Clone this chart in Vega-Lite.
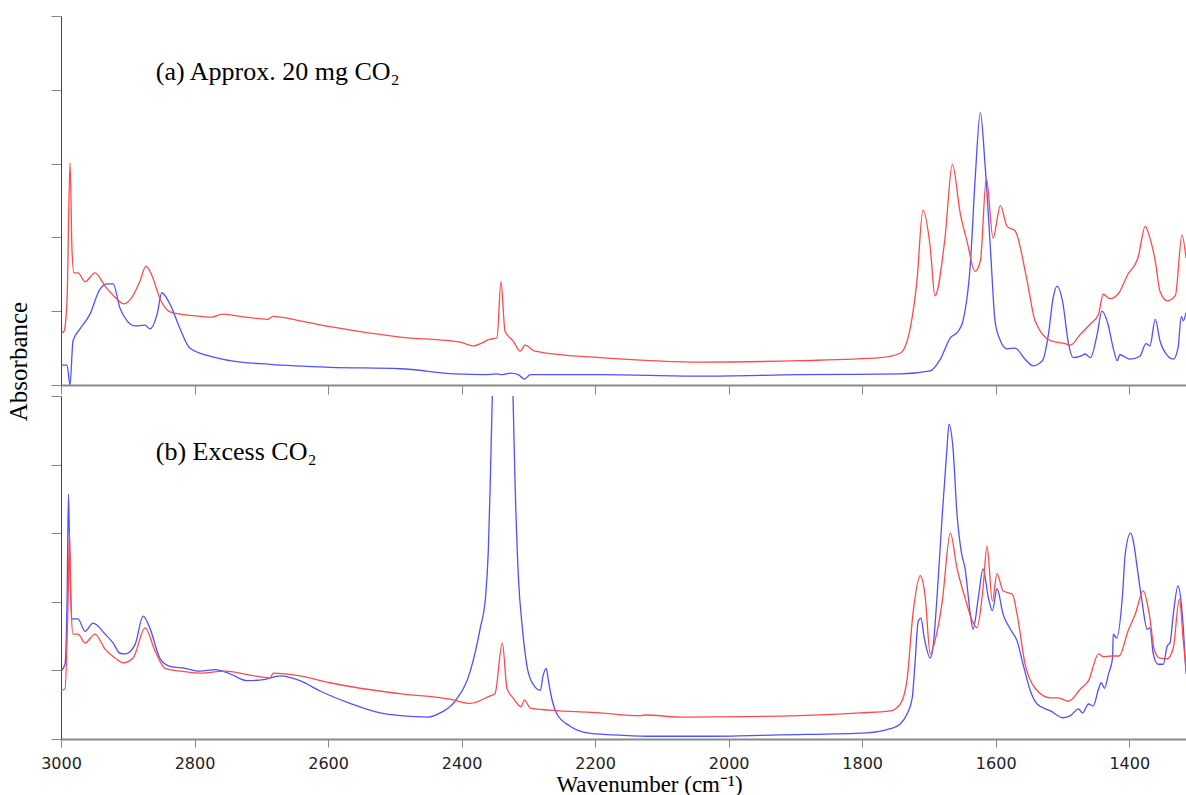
{
  "$schema": "https://vega.github.io/schema/vega-lite/v6.json",
  "padding": {"left": 6, "top": 15, "right": 0, "bottom": 0},
  "bounds": "flush",
  "spacing": 11,
  "config": {
    "view": {"stroke": null},
    "axis": {"grid": false, "labelFont": "DejaVu Sans", "labelFontSize": 16, "labelColor": "#222222", "titleFont": "Liberation Serif", "titleFontWeight": "normal", "titleColor": "#000000"}
  },
  "datasets": {
    "spectra": [
      {"panel":"a","series":"blue","wn":3000,"abs":0.27},{"panel":"a","series":"blue","wn":2991,"abs":0.27},{"panel":"a","series":"blue","wn":2986.5,"abs":0.0},{"panel":"a","series":"blue","wn":2982,"abs":0.6},{"panel":"a","series":"blue","wn":2971.5,"abs":0.76},{"panel":"a","series":"blue","wn":2956.6,"abs":0.96},{"panel":"a","series":"blue","wn":2941.6,"abs":1.3},{"panel":"a","series":"blue","wn":2929.6,"abs":1.37},{"panel":"a","series":"blue","wn":2922,"abs":1.37},{"panel":"a","series":"blue","wn":2911.6,"abs":1.04},{"panel":"a","series":"blue","wn":2901,"abs":0.87},{"panel":"a","series":"blue","wn":2889,"abs":0.8},{"panel":"a","series":"blue","wn":2874,"abs":0.81},{"panel":"a","series":"blue","wn":2866.7,"abs":0.76},{"panel":"a","series":"blue","wn":2856,"abs":0.96},{"panel":"a","series":"blue","wn":2849,"abs":1.25},{"panel":"a","series":"blue","wn":2837,"abs":1.1},{"panel":"a","series":"blue","wn":2822,"abs":0.77},{"panel":"a","series":"blue","wn":2807,"abs":0.5},{"panel":"a","series":"blue","wn":2777,"abs":0.39},{"panel":"a","series":"blue","wn":2747,"abs":0.33},{"panel":"a","series":"blue","wn":2687,"abs":0.28},{"panel":"a","series":"blue","wn":2597,"abs":0.24},{"panel":"a","series":"blue","wn":2492,"abs":0.22},{"panel":"a","series":"blue","wn":2410,"abs":0.15},{"panel":"a","series":"blue","wn":2365,"abs":0.14},{"panel":"a","series":"blue","wn":2347,"abs":0.15},{"panel":"a","series":"blue","wn":2339,"abs":0.14},{"panel":"a","series":"blue","wn":2327,"abs":0.16},{"panel":"a","series":"blue","wn":2315,"abs":0.14},{"panel":"a","series":"blue","wn":2306,"abs":0.08},{"panel":"a","series":"blue","wn":2297,"abs":0.14},{"panel":"a","series":"blue","wn":2193,"abs":0.14},{"panel":"a","series":"blue","wn":2043,"abs":0.12},{"panel":"a","series":"blue","wn":1893,"abs":0.14},{"panel":"a","series":"blue","wn":1743,"abs":0.15},{"panel":"a","series":"blue","wn":1698,"abs":0.19},{"panel":"a","series":"blue","wn":1683,"abs":0.35},{"panel":"a","series":"blue","wn":1668,"abs":0.64},{"panel":"a","series":"blue","wn":1656,"abs":0.73},{"panel":"a","series":"blue","wn":1649,"abs":0.87},{"panel":"a","series":"blue","wn":1638,"abs":1.64},{"panel":"a","series":"blue","wn":1631,"abs":2.76},{"panel":"a","series":"blue","wn":1623,"abs":3.69},{"panel":"a","series":"blue","wn":1616,"abs":2.99},{"panel":"a","series":"blue","wn":1608,"abs":1.86},{"panel":"a","series":"blue","wn":1601,"abs":0.87},{"panel":"a","series":"blue","wn":1593,"abs":0.6},{"panel":"a","series":"blue","wn":1583,"abs":0.49},{"panel":"a","series":"blue","wn":1571,"abs":0.5},{"panel":"a","series":"blue","wn":1556,"abs":0.35},{"panel":"a","series":"blue","wn":1544,"abs":0.26},{"panel":"a","series":"blue","wn":1530,"abs":0.33},{"panel":"a","series":"blue","wn":1521,"abs":0.69},{"panel":"a","series":"blue","wn":1514,"abs":1.18},{"panel":"a","series":"blue","wn":1508,"abs":1.34},{"panel":"a","series":"blue","wn":1500,"abs":1.14},{"panel":"a","series":"blue","wn":1491,"abs":0.56},{"panel":"a","series":"blue","wn":1484,"abs":0.37},{"panel":"a","series":"blue","wn":1473,"abs":0.39},{"panel":"a","series":"blue","wn":1466,"abs":0.42},{"panel":"a","series":"blue","wn":1458,"abs":0.37},{"panel":"a","series":"blue","wn":1448,"abs":0.69},{"panel":"a","series":"blue","wn":1441,"abs":1.0},{"panel":"a","series":"blue","wn":1432,"abs":0.83},{"panel":"a","series":"blue","wn":1424,"abs":0.5},{"panel":"a","series":"blue","wn":1418,"abs":0.33},{"panel":"a","series":"blue","wn":1414,"abs":0.41},{"panel":"a","series":"blue","wn":1399,"abs":0.35},{"panel":"a","series":"blue","wn":1384,"abs":0.39},{"panel":"a","series":"blue","wn":1375,"abs":0.56},{"panel":"a","series":"blue","wn":1369,"abs":0.53},{"panel":"a","series":"blue","wn":1361,"abs":0.89},{"panel":"a","series":"blue","wn":1354,"abs":0.6},{"panel":"a","series":"blue","wn":1342,"abs":0.39},{"panel":"a","series":"blue","wn":1334,"abs":0.35},{"panel":"a","series":"blue","wn":1327,"abs":0.5},{"panel":"a","series":"blue","wn":1322,"abs":0.93},{"panel":"a","series":"blue","wn":1319,"abs":0.87},{"panel":"a","series":"blue","wn":1315,"abs":0.98},
      {"panel":"a","series":"red","wn":3000,"abs":0.7},{"panel":"a","series":"red","wn":2995.5,"abs":0.73},{"panel":"a","series":"red","wn":2991,"abs":1.14},{"panel":"a","series":"red","wn":2986.5,"abs":3.01},{"panel":"a","series":"red","wn":2983.5,"abs":1.82},{"panel":"a","series":"red","wn":2980.5,"abs":1.52},{"panel":"a","series":"red","wn":2974.5,"abs":1.52},{"panel":"a","series":"red","wn":2964,"abs":1.4},{"panel":"a","series":"red","wn":2949,"abs":1.52},{"panel":"a","series":"red","wn":2934,"abs":1.34},{"panel":"a","series":"red","wn":2919,"abs":1.19},{"panel":"a","series":"red","wn":2905.6,"abs":1.1},{"panel":"a","series":"red","wn":2893.6,"abs":1.19},{"panel":"a","series":"red","wn":2881.7,"abs":1.41},{"panel":"a","series":"red","wn":2872.7,"abs":1.61},{"panel":"a","series":"red","wn":2863.7,"abs":1.48},{"panel":"a","series":"red","wn":2851.7,"abs":1.17},{"panel":"a","series":"red","wn":2836.7,"abs":0.99},{"panel":"a","series":"red","wn":2821.7,"abs":0.96},{"panel":"a","series":"red","wn":2791.8,"abs":0.93},{"panel":"a","series":"red","wn":2773.8,"abs":0.92},{"panel":"a","series":"red","wn":2758.8,"abs":0.96},{"panel":"a","series":"red","wn":2731.9,"abs":0.93},{"panel":"a","series":"red","wn":2689.9,"abs":0.89},{"panel":"a","series":"red","wn":2682.4,"abs":0.93},{"panel":"a","series":"red","wn":2642,"abs":0.87},{"panel":"a","series":"red","wn":2597,"abs":0.79},{"panel":"a","series":"red","wn":2492,"abs":0.65},{"panel":"a","series":"red","wn":2402,"abs":0.58},{"panel":"a","series":"red","wn":2383,"abs":0.53},{"panel":"a","series":"red","wn":2357,"abs":0.62},{"panel":"a","series":"red","wn":2347,"abs":0.64},{"panel":"a","series":"red","wn":2341,"abs":1.4},{"panel":"a","series":"red","wn":2335,"abs":0.73},{"panel":"a","series":"red","wn":2323,"abs":0.6},{"panel":"a","series":"red","wn":2312,"abs":0.46},{"panel":"a","series":"red","wn":2305,"abs":0.54},{"panel":"a","series":"red","wn":2290,"abs":0.46},{"panel":"a","series":"red","wn":2193,"abs":0.37},{"panel":"a","series":"red","wn":2118,"abs":0.33},{"panel":"a","series":"red","wn":2043,"abs":0.31},{"panel":"a","series":"red","wn":1893,"abs":0.33},{"panel":"a","series":"red","wn":1773,"abs":0.37},{"panel":"a","series":"red","wn":1743,"abs":0.43},{"panel":"a","series":"red","wn":1728,"abs":0.77},{"panel":"a","series":"red","wn":1718,"abs":1.41},{"panel":"a","series":"red","wn":1709,"abs":2.37},{"panel":"a","series":"red","wn":1698,"abs":1.86},{"panel":"a","series":"red","wn":1691,"abs":1.21},{"panel":"a","series":"red","wn":1676,"abs":1.99},{"panel":"a","series":"red","wn":1665,"abs":2.99},{"panel":"a","series":"red","wn":1653,"abs":2.32},{"panel":"a","series":"red","wn":1643,"abs":1.95},{"panel":"a","series":"red","wn":1631,"abs":1.54},{"panel":"a","series":"red","wn":1623,"abs":1.68},{"panel":"a","series":"red","wn":1614,"abs":2.8},{"panel":"a","series":"red","wn":1604,"abs":1.99},{"panel":"a","series":"red","wn":1593,"abs":2.43},{"panel":"a","series":"red","wn":1583,"abs":2.15},{"panel":"a","series":"red","wn":1571,"abs":2.09},{"panel":"a","series":"red","wn":1553,"abs":1.41},{"panel":"a","series":"red","wn":1541,"abs":0.87},{"panel":"a","series":"red","wn":1518,"abs":0.6},{"panel":"a","series":"red","wn":1496,"abs":0.56},{"panel":"a","series":"red","wn":1488,"abs":0.54},{"panel":"a","series":"red","wn":1473,"abs":0.69},{"panel":"a","series":"red","wn":1458,"abs":0.83},{"panel":"a","series":"red","wn":1446,"abs":0.96},{"panel":"a","series":"red","wn":1439,"abs":1.23},{"panel":"a","series":"red","wn":1429,"abs":1.17},{"panel":"a","series":"red","wn":1417,"abs":1.23},{"panel":"a","series":"red","wn":1402,"abs":1.5},{"panel":"a","series":"red","wn":1387,"abs":1.72},{"panel":"a","series":"red","wn":1376,"abs":2.15},{"panel":"a","series":"red","wn":1369,"abs":1.99},{"panel":"a","series":"red","wn":1361,"abs":1.68},{"panel":"a","series":"red","wn":1354,"abs":1.27},{"panel":"a","series":"red","wn":1343,"abs":1.14},{"panel":"a","series":"red","wn":1331,"abs":1.21},{"panel":"a","series":"red","wn":1321,"abs":2.03},{"panel":"a","series":"red","wn":1315,"abs":1.72},
      {"panel":"b","series":"blue","wn":3000,"abs":0.99},{"panel":"b","series":"blue","wn":2994,"abs":1.09},{"panel":"b","series":"blue","wn":2991,"abs":1.97},{"panel":"b","series":"blue","wn":2988.8,"abs":3.57},{"panel":"b","series":"blue","wn":2986.5,"abs":2.45},{"panel":"b","series":"blue","wn":2983.5,"abs":1.75},{"panel":"b","series":"blue","wn":2974.5,"abs":1.75},{"panel":"b","series":"blue","wn":2964,"abs":1.57},{"panel":"b","series":"blue","wn":2952,"abs":1.69},{"panel":"b","series":"blue","wn":2934,"abs":1.53},{"panel":"b","series":"blue","wn":2922,"abs":1.4},{"panel":"b","series":"blue","wn":2911.6,"abs":1.25},{"panel":"b","series":"blue","wn":2904,"abs":1.24},{"panel":"b","series":"blue","wn":2889,"abs":1.38},{"panel":"b","series":"blue","wn":2877,"abs":1.79},{"panel":"b","series":"blue","wn":2867,"abs":1.62},{"panel":"b","series":"blue","wn":2852,"abs":1.18},{"panel":"b","series":"blue","wn":2837,"abs":1.06},{"panel":"b","series":"blue","wn":2814,"abs":1.03},{"panel":"b","series":"blue","wn":2792,"abs":0.99},{"panel":"b","series":"blue","wn":2769,"abs":1.01},{"panel":"b","series":"blue","wn":2747,"abs":0.95},{"panel":"b","series":"blue","wn":2721,"abs":0.85},{"panel":"b","series":"blue","wn":2694,"abs":0.87},{"panel":"b","series":"blue","wn":2672,"abs":0.92},{"panel":"b","series":"blue","wn":2642,"abs":0.85},{"panel":"b","series":"blue","wn":2612,"abs":0.7},{"panel":"b","series":"blue","wn":2567,"abs":0.52},{"panel":"b","series":"blue","wn":2522,"abs":0.38},{"panel":"b","series":"blue","wn":2492,"abs":0.34},{"panel":"b","series":"blue","wn":2450,"abs":0.32},{"panel":"b","series":"blue","wn":2432,"abs":0.38},{"panel":"b","series":"blue","wn":2410,"abs":0.55},{"panel":"b","series":"blue","wn":2387,"abs":0.99},{"panel":"b","series":"blue","wn":2372,"abs":1.62},{"panel":"b","series":"blue","wn":2364,"abs":2.08},{"panel":"b","series":"blue","wn":2360,"abs":2.74},{"panel":"b","series":"blue","wn":2357,"abs":3.76},{"panel":"b","series":"blue","wn":2354,"abs":5.0},{"panel":"b","series":"blue","wn":2347,"abs":6.4},{"panel":"b","series":"blue","wn":2338,"abs":7.1},{"panel":"b","series":"blue","wn":2329,"abs":6.4},{"panel":"b","series":"blue","wn":2323,"abs":5.0},{"panel":"b","series":"blue","wn":2320,"abs":3.76},{"panel":"b","series":"blue","wn":2315,"abs":2.38},{"panel":"b","series":"blue","wn":2309,"abs":1.62},{"panel":"b","series":"blue","wn":2302,"abs":1.06},{"panel":"b","series":"blue","wn":2293,"abs":0.8},{"panel":"b","series":"blue","wn":2282,"abs":0.71},{"panel":"b","series":"blue","wn":2278,"abs":0.92},{"panel":"b","series":"blue","wn":2273,"abs":1.03},{"panel":"b","series":"blue","wn":2270,"abs":0.85},{"panel":"b","series":"blue","wn":2264,"abs":0.55},{"panel":"b","series":"blue","wn":2257,"abs":0.36},{"panel":"b","series":"blue","wn":2238,"abs":0.19},{"panel":"b","series":"blue","wn":2212,"abs":0.09},{"panel":"b","series":"blue","wn":2173,"abs":0.06},{"panel":"b","series":"blue","wn":2122,"abs":0.04},{"panel":"b","series":"blue","wn":2023,"abs":0.04},{"panel":"b","series":"blue","wn":1923,"abs":0.06},{"panel":"b","series":"blue","wn":1793,"abs":0.09},{"panel":"b","series":"blue","wn":1758,"abs":0.15},{"panel":"b","series":"blue","wn":1743,"abs":0.22},{"panel":"b","series":"blue","wn":1733,"abs":0.36},{"panel":"b","series":"blue","wn":1725,"abs":0.6},{"panel":"b","series":"blue","wn":1721,"abs":1.09},{"panel":"b","series":"blue","wn":1716,"abs":1.72},{"panel":"b","series":"blue","wn":1712,"abs":1.76},{"panel":"b","series":"blue","wn":1707,"abs":1.47},{"panel":"b","series":"blue","wn":1698,"abs":1.18},{"panel":"b","series":"blue","wn":1694,"abs":1.33},{"panel":"b","series":"blue","wn":1688,"abs":2.06},{"panel":"b","series":"blue","wn":1680,"abs":3.28},{"panel":"b","series":"blue","wn":1673,"abs":4.24},{"panel":"b","series":"blue","wn":1670,"abs":4.59},{"panel":"b","series":"blue","wn":1664,"abs":4.24},{"panel":"b","series":"blue","wn":1658,"abs":3.28},{"panel":"b","series":"blue","wn":1651,"abs":2.7},{"panel":"b","series":"blue","wn":1646,"abs":2.49},{"panel":"b","series":"blue","wn":1638,"abs":1.82},{"panel":"b","series":"blue","wn":1634,"abs":1.6},{"panel":"b","series":"blue","wn":1626,"abs":2.06},{"panel":"b","series":"blue","wn":1619,"abs":2.48},{"panel":"b","series":"blue","wn":1611,"abs":2.06},{"panel":"b","series":"blue","wn":1605,"abs":1.87},{"panel":"b","series":"blue","wn":1598,"abs":2.19},{"panel":"b","series":"blue","wn":1589,"abs":1.82},{"panel":"b","series":"blue","wn":1578,"abs":1.6},{"panel":"b","series":"blue","wn":1568,"abs":1.43},{"panel":"b","series":"blue","wn":1559,"abs":1.09},{"panel":"b","series":"blue","wn":1548,"abs":0.7},{"panel":"b","series":"blue","wn":1538,"abs":0.51},{"panel":"b","series":"blue","wn":1518,"abs":0.41},{"panel":"b","series":"blue","wn":1499,"abs":0.31},{"panel":"b","series":"blue","wn":1488,"abs":0.34},{"panel":"b","series":"blue","wn":1476,"abs":0.44},{"panel":"b","series":"blue","wn":1470,"abs":0.38},{"panel":"b","series":"blue","wn":1461,"abs":0.51},{"panel":"b","series":"blue","wn":1454,"abs":0.48},{"panel":"b","series":"blue","wn":1446,"abs":0.73},{"panel":"b","series":"blue","wn":1442,"abs":0.82},{"panel":"b","series":"blue","wn":1437,"abs":0.74},{"panel":"b","series":"blue","wn":1431,"abs":0.95},{"panel":"b","series":"blue","wn":1425,"abs":1.18},{"panel":"b","series":"blue","wn":1424,"abs":1.53},{"panel":"b","series":"blue","wn":1419,"abs":1.47},{"panel":"b","series":"blue","wn":1410,"abs":2.11},{"panel":"b","series":"blue","wn":1406,"abs":2.7},{"panel":"b","series":"blue","wn":1398,"abs":3.0},{"panel":"b","series":"blue","wn":1394,"abs":2.89},{"panel":"b","series":"blue","wn":1388,"abs":2.49},{"panel":"b","series":"blue","wn":1381,"abs":2.01},{"panel":"b","series":"blue","wn":1373,"abs":1.6},{"panel":"b","series":"blue","wn":1369,"abs":1.62},{"panel":"b","series":"blue","wn":1364,"abs":1.24},{"panel":"b","series":"blue","wn":1357,"abs":1.09},{"panel":"b","series":"blue","wn":1349,"abs":1.09},{"panel":"b","series":"blue","wn":1343,"abs":1.36},{"panel":"b","series":"blue","wn":1339,"abs":1.4},{"panel":"b","series":"blue","wn":1334,"abs":1.82},{"panel":"b","series":"blue","wn":1327,"abs":2.23},{"panel":"b","series":"blue","wn":1321,"abs":1.87},{"panel":"b","series":"blue","wn":1315,"abs":0.95},
      {"panel":"b","series":"red","wn":3000,"abs":0.71},{"panel":"b","series":"red","wn":2994,"abs":0.73},{"panel":"b","series":"red","wn":2989.5,"abs":1.97},{"panel":"b","series":"red","wn":2987.3,"abs":3.0},{"panel":"b","series":"red","wn":2985,"abs":1.97},{"panel":"b","series":"red","wn":2982,"abs":1.53},{"panel":"b","series":"red","wn":2974.5,"abs":1.53},{"panel":"b","series":"red","wn":2964,"abs":1.4},{"panel":"b","series":"red","wn":2949,"abs":1.53},{"panel":"b","series":"red","wn":2934,"abs":1.31},{"panel":"b","series":"red","wn":2919,"abs":1.18},{"panel":"b","series":"red","wn":2907,"abs":1.11},{"panel":"b","series":"red","wn":2892,"abs":1.18},{"panel":"b","series":"red","wn":2874,"abs":1.62},{"panel":"b","series":"red","wn":2859,"abs":1.28},{"panel":"b","series":"red","wn":2844,"abs":1.03},{"panel":"b","series":"red","wn":2822,"abs":0.99},{"panel":"b","series":"red","wn":2792,"abs":0.96},{"panel":"b","series":"red","wn":2754,"abs":0.99},{"panel":"b","series":"red","wn":2717,"abs":0.93},{"panel":"b","series":"red","wn":2687,"abs":0.89},{"panel":"b","series":"red","wn":2682,"abs":0.96},{"panel":"b","series":"red","wn":2642,"abs":0.92},{"panel":"b","series":"red","wn":2597,"abs":0.82},{"panel":"b","series":"red","wn":2552,"abs":0.74},{"panel":"b","series":"red","wn":2492,"abs":0.66},{"panel":"b","series":"red","wn":2417,"abs":0.58},{"panel":"b","series":"red","wn":2387,"abs":0.52},{"panel":"b","series":"red","wn":2357,"abs":0.63},{"panel":"b","series":"red","wn":2350,"abs":0.66},{"panel":"b","series":"red","wn":2339,"abs":1.4},{"panel":"b","series":"red","wn":2332,"abs":0.74},{"panel":"b","series":"red","wn":2323,"abs":0.6},{"panel":"b","series":"red","wn":2311,"abs":0.47},{"panel":"b","series":"red","wn":2306,"abs":0.57},{"panel":"b","series":"red","wn":2297,"abs":0.45},{"panel":"b","series":"red","wn":2267,"abs":0.42},{"panel":"b","series":"red","wn":2193,"abs":0.38},{"panel":"b","series":"red","wn":2133,"abs":0.34},{"panel":"b","series":"red","wn":2125,"abs":0.35},{"panel":"b","series":"red","wn":2073,"abs":0.32},{"panel":"b","series":"red","wn":1893,"abs":0.34},{"panel":"b","series":"red","wn":1803,"abs":0.38},{"panel":"b","series":"red","wn":1758,"abs":0.41},{"panel":"b","series":"red","wn":1743,"abs":0.51},{"panel":"b","series":"red","wn":1733,"abs":0.85},{"panel":"b","series":"red","wn":1724,"abs":1.82},{"panel":"b","series":"red","wn":1713,"abs":2.38},{"panel":"b","series":"red","wn":1706,"abs":2.11},{"panel":"b","series":"red","wn":1698,"abs":1.24},{"panel":"b","series":"red","wn":1691,"abs":1.43},{"panel":"b","series":"red","wn":1680,"abs":2.01},{"panel":"b","series":"red","wn":1668,"abs":3.0},{"panel":"b","series":"red","wn":1658,"abs":2.49},{"panel":"b","series":"red","wn":1646,"abs":2.06},{"panel":"b","series":"red","wn":1635,"abs":1.72},{"panel":"b","series":"red","wn":1628,"abs":1.62},{"panel":"b","series":"red","wn":1619,"abs":2.2},{"panel":"b","series":"red","wn":1613,"abs":2.81},{"panel":"b","series":"red","wn":1605,"abs":2.01},{"panel":"b","series":"red","wn":1598,"abs":2.41},{"panel":"b","series":"red","wn":1589,"abs":2.16},{"panel":"b","series":"red","wn":1575,"abs":2.11},{"panel":"b","series":"red","wn":1568,"abs":1.82},{"panel":"b","series":"red","wn":1556,"abs":1.09},{"panel":"b","series":"red","wn":1541,"abs":0.74},{"panel":"b","series":"red","wn":1518,"abs":0.6},{"panel":"b","series":"red","wn":1506,"abs":0.6},{"panel":"b","series":"red","wn":1491,"abs":0.55},{"panel":"b","series":"red","wn":1473,"abs":0.73},{"panel":"b","series":"red","wn":1461,"abs":0.85},{"panel":"b","series":"red","wn":1446,"abs":1.24},{"panel":"b","series":"red","wn":1439,"abs":1.2},{"panel":"b","series":"red","wn":1426,"abs":1.21},{"panel":"b","series":"red","wn":1415,"abs":1.21},{"panel":"b","series":"red","wn":1402,"abs":1.57},{"panel":"b","series":"red","wn":1391,"abs":1.82},{"panel":"b","series":"red","wn":1379,"abs":2.16},{"panel":"b","series":"red","wn":1370,"abs":1.82},{"panel":"b","series":"red","wn":1362,"abs":1.28},{"panel":"b","series":"red","wn":1354,"abs":1.18},{"panel":"b","series":"red","wn":1343,"abs":1.17},{"panel":"b","series":"red","wn":1334,"abs":1.33},{"panel":"b","series":"red","wn":1325,"abs":2.04},{"panel":"b","series":"red","wn":1319,"abs":1.43},{"panel":"b","series":"red","wn":1315,"abs":1.03}
    ],
    "labels": [
      {"panel":"a","wn":2858,"abs":4.13,"text":"(a) Approx. 20 mg CO₂"},
      {"panel":"b","wn":2858,"abs":4.07,"text":"(b) Excess CO₂"}
    ]
  },
  "vconcat": [
    {
      "width": 1125,
      "height": 369,
      "encoding": {
        "x": {"field":"wn","type":"quantitative","scale":{"domain":[1315,3000],"reverse":true,"nice":false,"zero":false},
              "axis":{"values":[3000,2800,2600,2400,2200,2000,1800,1600,1400],"labels":false,"title":null,"tickSize":9,"tickColor":"#888888","domainColor":"#8a8a8a","domainWidth":2}},
        "y": {"field":"abs","type":"quantitative","scale":{"domain":[0,5],"nice":false,"zero":false},
              "axis":{"values":[0,1,2,3,4,5],"labels":false,"tickSize":10,"tickColor":"#888888","domainColor":"#444444","title":"Absorbance","titleFontSize":25,"titleX":-30,"titleY":345,"titleAngle":270}}
      },
      "layer": [
        {"data":{"name":"spectra"},"transform":[{"filter":"datum.panel === 'a'"}],
         "mark":{"type":"line","strokeWidth":1.3,"clip":true,"interpolate":"monotone"},
         "encoding":{"color":{"field":"series","type":"nominal","scale":{"domain":["blue","red"],"range":["#5050ff","#ff4a4a"]},"legend":null},"order":{"field":"wn","type":"quantitative"}}},
        {"data":{"name":"labels"},"transform":[{"filter":"datum.panel === 'a'"}],
         "mark":{"type":"text","align":"left","baseline":"alphabetic","font":"Liberation Serif","fontSize":26,"color":"#000000"},
         "encoding":{"text":{"field":"text"}}}
      ]
    },
    {
      "width": 1125,
      "height": 343,
      "encoding": {
        "x": {"field":"wn","type":"quantitative","scale":{"domain":[1315,3000],"reverse":true,"nice":false,"zero":false},
              "axis":{"values":[3000,2800,2600,2400,2200,2000,1800,1600,1400],"format":"d","labelFlush":false,"tickSize":8,"tickColor":"#888888","domainColor":"#8a8a8a","domainWidth":2,"labelPadding":8,"title":"Wavenumber (cm⁻¹)","titleFontSize":23,"titleBaseline":"alphabetic","titleX":588,"titleY":52}},
        "y": {"field":"abs","type":"quantitative","scale":{"domain":[0,5],"nice":false,"zero":false},
              "axis":{"values":[0,1,2,3,4,5],"labels":false,"tickSize":10,"tickColor":"#888888","domainColor":"#444444","title":null}}
      },
      "layer": [
        {"data":{"name":"spectra"},"transform":[{"filter":"datum.panel === 'b'"}],
         "mark":{"type":"line","strokeWidth":1.3,"clip":true,"interpolate":"monotone"},
         "encoding":{"color":{"field":"series","type":"nominal","scale":{"domain":["blue","red"],"range":["#5050ff","#ff4a4a"]},"legend":null},"order":{"field":"wn","type":"quantitative"}}},
        {"data":{"name":"labels"},"transform":[{"filter":"datum.panel === 'b'"}],
         "mark":{"type":"text","align":"left","baseline":"alphabetic","font":"Liberation Serif","fontSize":26,"color":"#000000"},
         "encoding":{"text":{"field":"text"}}}
      ]
    }
  ]
}
